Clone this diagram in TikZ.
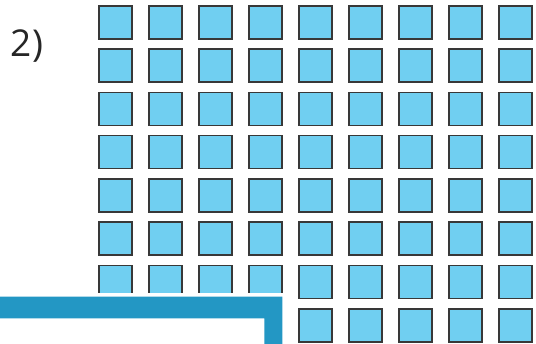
\documentclass[tikz,border=0pt]{standalone}
\usepackage{fontspec}
\newfontfamily\labelfont{Open Sans}
\usetikzlibrary{positioning}
\definecolor{tile}{HTML}{70CFF1}
\definecolor{tileedge}{HTML}{383838}
\definecolor{band}{HTML}{2397C4}

\begin{document}
\begin{tikzpicture}[x=1pt,y=-1pt,
    cell/.style={rectangle,draw=tileedge,fill=tile,line width=1.6pt,minimum size=33pt,inner sep=0pt},
    tag/.style={font=\labelfont\fontsize{37}{37}\selectfont,text=black!85},
]
\useasboundingbox (0,0) rectangle (536,344);

% Label
\node[tag] (num) at (27,46) {2)};

% Grid of squares, 9 columns x 8 rows
\foreach \c in {0,...,8}{
  \foreach \r in {0,...,7}{
    \node[cell] (sq-\c-\r) at (115.3+50*\c,22.3+43.3*\r) {};
  }
}

% Cover under the band
\fill[white] (0,293.3) -- (286,293.3) -- (286,344) -- (0,344) -- cycle;

% L-shaped band
\fill[band] (0,296.7) -- (282.3,296.7) -- (282.3,344) -- (264.3,344)
  -- (264.3,318.3) -- (0,318.3) -- cycle;
\end{tikzpicture}
\end{document}
